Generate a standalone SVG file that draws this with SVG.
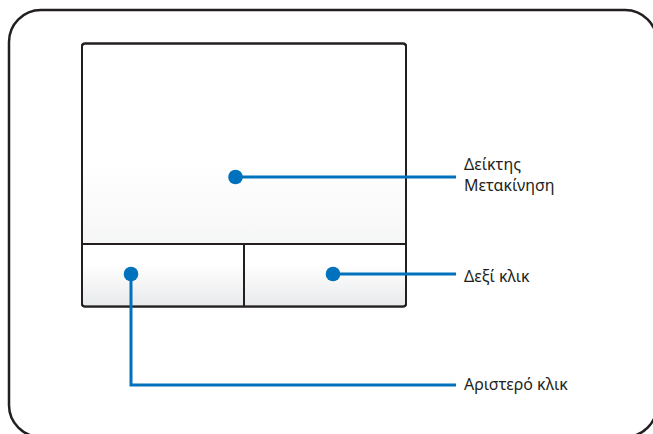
<svg xmlns="http://www.w3.org/2000/svg" width="653" height="434" viewBox="0 0 653 434">
  <style>
    .frame { fill: #ffffff; stroke: #231f20; stroke-width: 2.5; }
    .pad { stroke: #231f20; stroke-width: 2; }
    .lead { fill: none; stroke: #0071bc; stroke-width: 3; }
    .dot { fill: #0071bc; }
    .label { font-family: "Noto Sans", "Open Sans", sans-serif; font-size: 16px; fill: #231f20; }
  </style>
  <defs>
    <linearGradient id="gPad" x1="0" y1="0" x2="0" y2="1">
      <stop offset="0" stop-color="#ffffff"/>
      <stop offset="0.45" stop-color="#ffffff"/>
      <stop offset="1" stop-color="#eeeff0"/>
    </linearGradient>
    <linearGradient id="gBtn" x1="0" y1="0" x2="0" y2="1">
      <stop offset="0" stop-color="#ffffff"/>
      <stop offset="0.3" stop-color="#ffffff"/>
      <stop offset="1" stop-color="#e9eaeb"/>
    </linearGradient>
  </defs>
  <rect class="frame" x="9" y="10" width="648" height="427" rx="32" ry="32"/>
  <g id="touchpad">
    <rect x="82" y="43.5" width="324" height="263" rx="3" ry="3" fill="url(#gPad)" class="pad"/>
    <rect x="83" y="245" width="322" height="60.5" fill="url(#gBtn)"/>
    <line class="pad" x1="82" y1="244" x2="406" y2="244"/>
    <line class="pad" x1="244" y1="244" x2="244" y2="306"/>
    <rect x="82" y="43.5" width="324" height="263" rx="3" ry="3" fill="none" class="pad"/>
  </g>
  <g id="connectors">
    <polyline class="lead" points="235.5,177 456,177"/>
    <polyline class="lead" points="333,274 456,274"/>
    <polyline class="lead" points="131,274 131,385 456,385"/>
  </g>
  <g id="node-pointer">
    <circle class="dot" cx="235.5" cy="177" r="7.3"/>
    <text class="label" x="464" y="170">Δείκτης</text>
    <text class="label" x="464" y="191">Μετακίνηση</text>
  </g>
  <g id="node-right">
    <circle class="dot" cx="333" cy="274" r="7.3"/>
    <text class="label" x="464" y="282">Δεξί κλικ</text>
  </g>
  <g id="node-left">
    <circle class="dot" cx="131" cy="274" r="7.3"/>
    <text class="label" x="464" y="390">Αριστερό κλικ</text>
  </g>
</svg>
